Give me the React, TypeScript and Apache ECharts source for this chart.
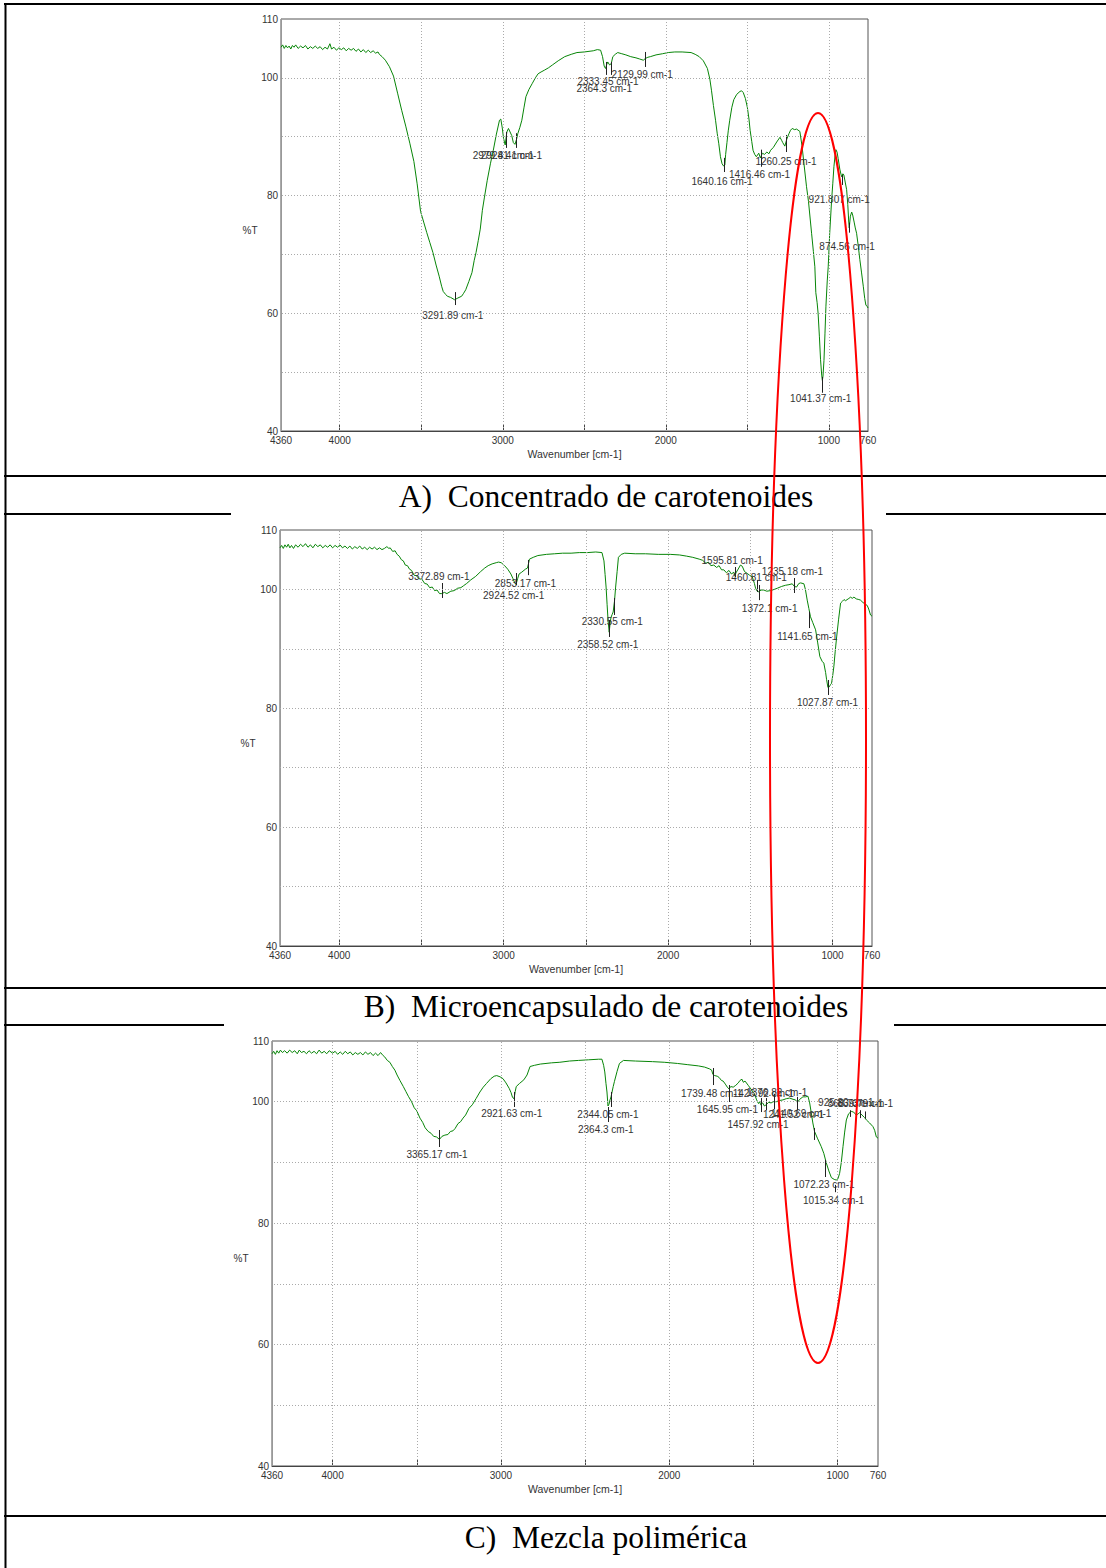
import React, { useEffect, useRef } from 'react';
import * as echarts from 'echarts';

// ---------- axis ticks / labels ----------
const X_LABELS = [4360, 4000, 3000, 2000, 1000, 760];
const X_GRID = [4000, 3500, 3000, 2500, 2000, 1500, 1000];
const Y_LABELS = [110, 100, 80, 60, 40];
const Y_GRID = [100, 90, 80, 70, 60, 50];
const X_NAME = 'Wavenumber [cm-1]';
const Y_NAME = '%T';
const CAPTIONS = [
  'A)\u00a0\u00a0Concentrado de carotenoides',
  'B)\u00a0\u00a0Microencapsulado de carotenoides',
  'C)\u00a0\u00a0Mezcla polimérica',
];

// ---------- spectra: [wavenumber, %T] ----------
const specA: [number, number][] = [
  [4360,105.2],[4350,105.6],[4340,105.0],[4330,105.5],[4320,105.1],[4310,105.4],[4300,104.9],[4290,105.5],[4280,105.2],[4270,105.6],
  [4255,105.0],[4240,105.4],[4225,105.1],[4210,105.5],[4195,104.9],[4180,105.3],[4165,105.0],[4150,105.4],[4135,105.0],[4120,105.3],
  [4105,104.8],[4090,105.2],[4075,104.9],[4060,105.8],[4050,104.9],[4035,105.2],[4020,104.7],[4005,105.1],[3990,104.8],[3975,105.1],
  [3960,104.6],[3945,105.0],[3930,104.7],[3915,105.0],[3900,104.5],[3885,104.9],[3870,104.4],[3855,104.8],[3840,104.3],[3825,104.7],
  [3810,104.3],[3795,104.6],[3780,104.2],[3765,104.4],[3757,104.0],[3740,103.6],[3720,103.0],[3695,101.9],[3670,100.3],[3645,97.4],
  [3620,94.5],[3595,91.8],[3570,88.9],[3545,85.8],[3525,82.0],[3504,77.3],[3485,75.5],[3466,73.7],[3447,72.0],[3428,70.3],
  [3409,68.2],[3390,66.3],[3375,64.6],[3365,63.7],[3350,63.2],[3340,62.9],[3320,62.7],[3295,62.3],[3275,62.6],[3252,62.9],
  [3240,63.4],[3227,64.0],[3208,65.4],[3189,66.9],[3175,69.0],[3164,70.3],[3150,72.4],[3138,74.3],[3125,77.5],[3113,79.6],
  [3095,82.6],[3075,85.5],[3058,87.7],[3040,90.3],[3020,92.8],[3012,93.0],[3003,91.5],[2995,89.7],[2985,88.6],[2975,90.8],
  [2965,91.4],[2955,90.8],[2945,90.2],[2935,89.0],[2925,88.7],[2915,89.6],[2908,90.5],[2895,91.6],[2883,92.8],[2870,94.9],
  [2858,96.8],[2840,98.0],[2820,99.0],[2800,100.0],[2783,100.7],[2765,101.0],[2745,101.3],[2720,101.7],[2695,102.2],[2660,102.9],
  [2620,103.6],[2580,104.0],[2545,104.3],[2500,104.4],[2445,104.6],[2420,104.8],[2400,104.7],[2388,103.6],[2378,102.0],[2370,101.6],
  [2362,102.3],[2356,102.7],[2345,102.2],[2335,102.4],[2325,103.6],[2310,104.0],[2295,104.3],[2270,104.1],[2245,103.9],[2215,103.6],
  [2183,103.4],[2160,103.2],[2138,103.0],[2125,103.3],[2110,103.5],[2095,103.6],[2060,103.9],[2020,104.1],[1985,104.3],[1945,104.4],
  [1900,104.4],[1845,104.3],[1820,104.0],[1795,103.6],[1770,102.9],[1745,101.6],[1730,99.8],[1720,97.9],[1708,95.3],[1695,92.8],
  [1685,90.6],[1675,88.8],[1665,86.6],[1655,85.4],[1645,85.0],[1638,85.2],[1633,87.0],[1625,89.0],[1617,91.0],[1608,92.8],
  [1595,95.0],[1583,96.3],[1565,97.2],[1545,97.7],[1535,97.8],[1525,97.5],[1512,96.5],[1500,95.0],[1490,93.0],[1483,91.1],
  [1473,89.2],[1465,87.7],[1455,87.0],[1445,86.6],[1430,87.2],[1420,86.4],[1408,87.2],[1395,87.0],[1380,87.4],[1368,87.1],
  [1357,87.7],[1340,88.2],[1320,89.1],[1300,89.9],[1290,89.4],[1283,89.0],[1270,88.4],[1258,89.6],[1245,90.5],[1235,91.1],
  [1225,91.4],[1210,91.2],[1198,91.3],[1178,90.9],[1165,88.5],[1153,85.5],[1137,81.5],[1125,79.0],[1106,73.6],[1095,70.5],
  [1086,67.9],[1080,63.5],[1072,61.8],[1066,60.0],[1058,56.0],[1051,52.1],[1044,49.5],[1040,48.6],[1036,49.3],[1030,52.0],
  [1024,56.5],[1018,61.2],[1010,65.5],[1004,67.9],[995,73.5],[983,79.3],[976,82.0],[969,84.9],[962,86.8],[957,87.8],
  [950,87.4],[943,86.3],[933,84.5],[922,83.2],[914,83.7],[908,83.5],[900,82.3],[891,81.0],[884,78.5],[878,75.5],
  [875,74.5],[868,76.5],[860,77.2],[854,76.7],[845,75.5],[838,74.5],[830,73.6],[820,71.5],[810,69.1],[800,67.0],
  [789,64.6],[780,62.5],[773,61.4],[766,61.2],[760,60.9],
];

const specB: [number, number][] = [
  [4360,107.0],[4350,107.4],[4340,106.9],[4330,107.5],[4320,107.1],[4310,107.6],[4300,107.0],[4290,107.4],[4278,106.9],[4265,107.5],
  [4250,107.1],[4235,107.6],[4220,107.2],[4205,107.7],[4190,107.1],[4175,107.5],[4160,107.0],[4145,107.6],[4130,107.2],[4115,107.5],
  [4100,107.0],[4085,107.4],[4070,107.1],[4055,107.5],[4040,107.0],[4025,107.4],[4010,107.1],[3995,107.5],[3980,107.0],[3965,107.3],
  [3950,106.9],[3935,107.3],[3920,106.8],[3905,107.2],[3890,106.9],[3875,107.3],[3860,106.8],[3845,107.1],[3830,106.7],[3815,107.1],
  [3800,106.8],[3785,107.1],[3770,106.7],[3755,107.0],[3740,106.7],[3725,106.9],[3710,107.2],[3698,106.9],[3690,107.0],[3675,106.4],
  [3660,106.5],[3648,105.9],[3635,105.6],[3622,105.0],[3610,104.8],[3598,104.1],[3585,104.0],[3572,103.4],[3560,103.2],[3545,102.4],
  [3530,102.3],[3515,101.8],[3497,101.7],[3480,101.0],[3465,100.9],[3450,100.3],[3434,100.4],[3420,99.8],[3405,99.9],[3390,99.3],
  [3376,99.3],[3360,99.5],[3345,99.3],[3321,99.7],[3300,99.8],[3280,100.2],[3260,100.3],[3245,100.6],[3225,101.0],[3200,101.6],
  [3170,102.2],[3140,103.0],[3115,103.6],[3094,104.0],[3070,104.3],[3045,104.5],[3031,104.6],[3015,104.5],[2994,104.0],[2975,103.4],
  [2956,102.6],[2943,101.8],[2931,101.0],[2924,100.9],[2915,101.8],[2906,102.6],[2890,102.9],[2868,103.4],[2855,103.6],[2850,104.2],
  [2843,105.1],[2820,105.4],[2792,105.7],[2740,105.9],[2690,106.0],[2641,106.1],[2590,106.1],[2540,106.2],[2490,106.2],[2440,106.3],
  [2402,106.2],[2390,104.8],[2383,102.5],[2377,100.4],[2371,97.5],[2365,94.8],[2358,92.8],[2352,94.5],[2347,95.3],[2340,95.8],
  [2334,96.2],[2326,98.0],[2319,100.4],[2310,103.0],[2302,105.4],[2285,105.9],[2264,106.1],[2200,106.0],[2138,106.0],[2060,105.9],
  [1987,105.9],[1930,105.8],[1887,105.6],[1850,105.4],[1811,105.1],[1790,104.9],[1770,104.4],[1755,104.6],[1740,104.0],[1722,104.1],
  [1705,103.7],[1690,104.0],[1675,103.3],[1661,103.3],[1645,102.8],[1630,103.2],[1615,102.6],[1600,102.9],[1595,102.3],[1585,102.9],
  [1570,103.6],[1560,104.1],[1549,103.9],[1535,103.0],[1519,102.7],[1505,102.4],[1488,102.1],[1475,101.0],[1468,100.2],[1458,99.7],
  [1448,99.6],[1435,99.9],[1418,99.9],[1400,99.7],[1377,99.8],[1355,100.0],[1336,100.2],[1310,100.5],[1286,100.7],[1265,100.8],
  [1245,100.95],[1232,100.5],[1219,100.4],[1205,101.0],[1194,101.1],[1174,100.95],[1165,100.0],[1154,98.2],[1144,96.8],[1134,95.4],
  [1120,94.4],[1103,93.2],[1090,91.0],[1077,88.7],[1063,87.9],[1053,87.6],[1042,86.0],[1036,84.8],[1028,83.5],[1020,83.6],
  [1012,84.0],[1006,84.2],[999,85.5],[992,87.0],[984,89.5],[975,92.0],[963,95.0],[951,97.7],[940,98.0],[930,98.3],
  [921,98.1],[905,98.4],[890,98.7],[880,98.5],[870,98.7],[855,98.4],[840,98.3],[830,98.2],[815,97.8],[800,97.5],
  [789,97.3],[780,96.7],[769,95.7],[760,95.5],
];

const specC: [number, number][] = [
  [4360,107.9],[4350,108.3],[4340,107.8],[4330,108.4],[4320,108.0],[4310,108.5],[4298,108.1],[4285,108.4],[4270,108.0],[4255,108.5],
  [4240,108.1],[4225,108.4],[4210,107.9],[4198,108.5],[4185,108.1],[4170,108.3],[4155,107.9],[4140,108.4],[4125,108.0],[4110,108.3],
  [4095,107.9],[4080,108.5],[4065,108.0],[4050,108.3],[4035,107.9],[4020,108.4],[4000,108.0],[3985,108.3],[3970,107.8],[3955,108.2],
  [3940,107.8],[3925,108.3],[3910,107.9],[3895,108.2],[3880,107.7],[3865,108.1],[3850,107.8],[3835,108.1],[3820,107.7],[3805,108.2],
  [3790,107.8],[3775,108.1],[3760,107.6],[3745,108.0],[3730,107.6],[3715,108.1],[3700,107.6],[3691,107.4],[3675,106.8],[3660,106.5],
  [3645,105.8],[3630,105.2],[3617,104.4],[3600,103.5],[3580,102.5],[3565,101.7],[3550,100.9],[3531,100.0],[3515,99.0],[3500,98.5],
  [3481,97.3],[3465,96.6],[3450,95.7],[3432,95.1],[3415,94.8],[3400,94.3],[3383,94.2],[3365,93.8],[3350,94.3],[3333,94.5],
  [3315,94.6],[3300,95.1],[3285,95.2],[3272,95.6],[3255,96.4],[3240,96.7],[3225,97.3],[3210,97.8],[3190,98.9],[3170,99.5],
  [3148,100.5],[3125,101.6],[3105,102.4],[3086,103.0],[3060,103.8],[3040,104.2],[3025,104.3],[3005,104.1],[2988,103.8],[2970,103.1],
  [2951,102.2],[2940,101.5],[2931,100.7],[2922,100.5],[2915,101.7],[2909,102.5],[2890,103.0],[2864,103.6],[2845,104.4],[2827,105.8],
  [2800,106.0],[2766,106.2],[2700,106.4],[2650,106.5],[2593,106.7],[2540,106.8],[2480,106.9],[2420,107.0],[2400,107.0],[2390,106.0],
  [2383,104.9],[2376,103.0],[2370,101.6],[2364,99.3],[2358,99.6],[2352,100.3],[2346,100.8],[2340,101.6],[2333,102.5],[2326,103.3],
  [2310,105.0],[2296,106.3],[2272,106.8],[2200,106.7],[2099,106.6],[2030,106.5],[1951,106.3],[1890,106.1],[1827,105.9],[1790,105.7],
  [1760,105.4],[1748,105.2],[1741,104.5],[1730,104.3],[1715,104.2],[1704,104.0],[1690,103.5],[1680,103.4],[1667,102.9],[1655,102.4],
  [1645,102.1],[1635,102.5],[1620,102.4],[1605,102.7],[1590,103.1],[1580,103.5],[1568,103.7],[1560,103.2],[1550,103.4],[1531,102.7],
  [1515,102.1],[1500,101.5],[1490,101.0],[1481,100.3],[1470,99.7],[1463,100.0],[1457,99.5],[1445,99.8],[1435,99.3],[1424,99.5],
  [1410,99.9],[1395,99.8],[1383,100.0],[1364,100.0],[1345,100.2],[1325,100.3],[1305,100.5],[1285,100.6],[1265,100.4],[1250,100.3],
  [1239,99.9],[1225,100.4],[1206,100.8],[1190,100.8],[1176,100.9],[1166,99.8],[1156,98.1],[1147,96.5],[1137,95.1],[1120,94.0],
  [1097,92.6],[1082,91.5],[1067,89.9],[1052,88.6],[1037,87.5],[1020,87.2],[1008,87.1],[998,87.3],[988,88.2],[978,90.0],
  [968,92.6],[958,95.0],[948,97.0],[935,98.0],[919,98.4],[905,98.3],[889,97.8],[878,98.0],[869,98.2],[855,97.8],
  [840,97.4],[829,97.0],[810,96.5],[790,95.9],[780,95.3],[770,94.2],[760,94.0],
];

// ---------- peak annotations: [wavenumber, tick top %T, tick bottom %T, label] ----------
type Ann = [number, number, number, string];
const annA: Ann[] = [
  [3291.89, 63.6, 61.4, '3291.89 cm-1'],
  [2981.5, 90.8, 88.1, '2979.81 cm-1'],
  [2920, 90.6, 88.1, '2924.41 cm-1'],
  [2364.3, 102.7, 100.5, '2364.3 cm-1'],
  [2333.45, 102.7, 100.5, '2333.45 cm-1'],
  [2129.99, 104.4, 101.85, '2129.99 cm-1'],
  [1640.16, 86.4, 84.0, '1640.16 cm-1'],
  [1416.46, 87.8, 84.9, '1416.46 cm-1'],
  [1260.25, 90.3, 87.4, '1260.25 cm-1'],
  [921.807, 83.5, 81.8, '921.807 cm-1'],
  [874.56, 75.4, 73.7, '874.56 cm-1'],
  [1041.37, 49.2, 46.5, '1041.37 cm-1'],
];
const annB: Ann[] = [
  [3372.89, 101.08, 98.56, '3372.89 cm-1'],
  [2853.17, 104.95, 102.4, '2853.17 cm-1'],
  [2924.52, 102.76, 100.75, '2924.52 cm-1'],
  [2330.55, 98.56, 95.7, '2330.55 cm-1'],
  [2358.52, 94.86, 92.0, '2358.52 cm-1'],
  [1595.81, 103.77, 102.09, '1595.81 cm-1'],
  [1460.81, 101.6, 99.57, '1460.81 cm-1'],
  [1235.18, 101.92, 99.4, '1235.18 cm-1'],
  [1448, 100.75, 98.2, '1372.1 cm-1'],
  [1141.65, 96.25, 93.5, '1141.65 cm-1'],
  [1027.87, 84.76, 82.24, '1027.87 cm-1'],
];
const annC: Ann[] = [
  [3365.17, 95.34, 92.54, '3365.17 cm-1'],
  [2921.63, 101.6, 99.13, '2921.63 cm-1'],
  [2344.05, 101.6, 99.13, '2344.05 cm-1'],
  [2364.3, 99.13, 96.66, '2364.3 cm-1'],
  [1739.48, 105.55, 102.75, '1739.48 cm-1'],
  [1645.95, 102.75, 99.95, '1645.95 cm-1'],
  [1457.92, 100.6, 98.3, '1457.92 cm-1'],
  [1426.92, 100.6, 98.6, '1426.92 cm-1'],
  [1376.82, 101.3, 98.8, '1376.82 cm-1'],
  [1241.52, 100.8, 98.6, '1241.52 cm-1'],
  [1140.69, 95.67, 93.7, '1140.69 cm-1'],
  [1072.23, 90.4, 87.6, '1072.23 cm-1'],
  [1015.34, 86.3, 85.1, '1015.34 cm-1'],
  [925.8, 98.6, 97.5, '925.80 cm-1'],
  [868.73, 98.6, 97.3, '868.73 cm-1'],
  [839.79, 98.4, 97.2, '839.79 cm-1'],
];

// ---------- layout (pixels) ----------
const LABEL_OFFSETS: number[][][] = [
  [[-33,10],[-33,8],[-35,8],[-30,14],[-34,7],[-33,8],[-33,9],[-32,8],[-31,9],[-33,15],[-30,14],[-32,6]],
  [[-34,-21],[-33,8],[-33,11],[-32,7],[-32,8],[-33,-17],[-31,-14],[-32,-21],[-17,8],[-32,8],[-31,8]],
  [[-33,7],[-33,7],[-34,8],[-30,8],[-32,8],[-32,7],[-33,12],[-33,-17],[-28,-17],[-34,4],[-43,-26],[-32,7],[-32,8],[-32,-14],[-32,-15],[-27,-15]],
];
const PANELS = [
  { left: 281, top: 19, width: 587, height: 412, yName: [250, 230] },
  { left: 280, top: 530, width: 592, height: 416, yName: [248, 743] },
  { left: 272, top: 1041, width: 606, height: 425, yName: [241, 1258] },
];
const CAPTION_POS = [[606, 496], [606, 1006], [606, 1537]];

const SANS = '"Liberation Sans", Arial, sans-serif';
const SERIF = '"Liberation Serif", "Times New Roman", serif';

export default function App() {
  const ref = useRef<HTMLDivElement>(null);
  useEffect(() => {
    document.body.style.margin = '0';
    if (!ref.current) return;
    const chart = echarts.init(ref.current, undefined, { renderer: 'svg' });
    const spectra = [specA, specB, specC];
    const anns = [annA, annB, annC];

    const grid = PANELS.map((p) => ({
      left: p.left, top: p.top, width: p.width, height: p.height,
      show: true, borderColor: '#555', borderWidth: 1, backgroundColor: '#fff',
    }));
    const xAxis = PANELS.map((_, i) => ({
      type: 'value', gridIndex: i, min: 760, max: 4360, inverse: true,
      axisLine: { show: true, onZero: false, lineStyle: { color: '#444', width: 1 } },
      axisTick: { show: true, inside: true, length: 7, customValues: X_GRID, lineStyle: { color: '#444' } },
      axisLabel: {
        customValues: X_LABELS, fontSize: 10, color: '#333', margin: 4, fontFamily: SANS,
        showMinLabel: true, showMaxLabel: true, formatter: (v: number) => String(v),
      },
      splitLine: { show: false },
      name: X_NAME, nameLocation: 'middle', nameGap: 17,
      nameTextStyle: { fontSize: 10.5, color: '#333', fontFamily: SANS },
    }));
    const yAxis = PANELS.map((_, i) => ({
      type: 'value', gridIndex: i, min: 40, max: 110,
      axisLine: { show: true, onZero: false, lineStyle: { color: '#999', width: 1 } },
      axisTick: { show: false },
      axisLabel: { customValues: Y_LABELS, fontSize: 10, color: '#333', margin: 3, fontFamily: SANS, formatter: (v: number) => String(v) },
      splitLine: { show: false },
    }));

    const series: any[] = [];
    spectra.forEach((data, i) => {
      series.push({
        type: 'line', xAxisIndex: i, yAxisIndex: i, data, showSymbol: false, symbol: 'none',
        lineStyle: { color: '#078507', width: 1 }, z: 3, silent: true,
        markLine: {
          silent: true, symbol: ['none', 'none'], label: { show: false },
          lineStyle: { color: '#aaa', width: 1, type: [1, 2] },
          emphasis: { disabled: true },
          data: [...X_GRID.map((v) => ({ xAxis: v })), ...Y_GRID.map((v) => ({ yAxis: v }))],
        },
      });
      const ann = anns[i];
      const offs = LABEL_OFFSETS[i];
      series.push({
        type: 'custom', xAxisIndex: i, yAxisIndex: i, clip: false, z: 4, silent: true,
        data: ann.map((a) => [a[0], a[1], a[2]]),
        encode: { x: 0, y: [1, 2] },
        renderItem: (params: any, api: any) => {
          const p1 = api.coord([api.value(0), api.value(1)]);
          const p2 = api.coord([api.value(0), api.value(2)]);
          const off = offs[params.dataIndex];
          const x = Math.round(p1[0]) + 0.5;
          return {
            type: 'group',
            children: [
              { type: 'line', shape: { x1: x, y1: p1[1], x2: x, y2: p2[1] }, style: { stroke: '#222', lineWidth: 1 } },
              {
                type: 'text', x: p2[0] + off[0], y: p2[1] + off[1],
                style: { text: ann[params.dataIndex][3], fill: '#333', fontSize: 10, fontFamily: SANS, align: 'left', verticalAlign: 'middle' },
              },
            ],
          };
        },
      });
    });

    const black = { fill: '#000' };
    const graphic: any[] = [
      { type: 'rect', shape: { x: 4, y: 3, width: 1102, height: 2 }, style: black, silent: true },
      { type: 'rect', shape: { x: 4.5, y: 3, width: 2, height: 1565 }, style: black, silent: true },
      { type: 'rect', shape: { x: 4, y: 475, width: 1102, height: 2 }, style: black, silent: true },
      { type: 'rect', shape: { x: 4, y: 513, width: 227, height: 2 }, style: black, silent: true },
      { type: 'rect', shape: { x: 886, y: 513, width: 220, height: 2 }, style: black, silent: true },
      { type: 'rect', shape: { x: 4, y: 987, width: 1102, height: 2 }, style: black, silent: true },
      { type: 'rect', shape: { x: 4, y: 1024, width: 220, height: 2 }, style: black, silent: true },
      { type: 'rect', shape: { x: 894, y: 1024, width: 212, height: 2 }, style: black, silent: true },
      { type: 'rect', shape: { x: 4, y: 1515, width: 1102, height: 2 }, style: black, silent: true },
    ];
    CAPTIONS.forEach((c, i) => {
      graphic.push({
        type: 'text', x: CAPTION_POS[i][0], y: CAPTION_POS[i][1], silent: true,
        style: { text: c, fill: '#000', fontSize: 31.5, fontFamily: SERIF, align: 'center', verticalAlign: 'middle' },
      });
    });
    PANELS.forEach((p) => {
      graphic.push({
        type: 'text', x: p.yName[0], y: p.yName[1], silent: true,
        style: { text: Y_NAME, fill: '#333', fontSize: 10, fontFamily: SANS, align: 'center', verticalAlign: 'middle' },
      });
    });
    graphic.push({
      type: 'ellipse', z: 100, silent: true,
      shape: { cx: 818, cy: 738, rx: 48, ry: 625 },
      style: { fill: 'none', stroke: '#ff0000', lineWidth: 2 },
    });

    chart.setOption({
      animation: false,
      backgroundColor: '#fff',
      grid, xAxis, yAxis, series, graphic,
    });
    return () => chart.dispose();
  }, []);
  return <div ref={ref} style={{ width: 1106, height: 1568, position: 'absolute', left: 0, top: 0 }} />;
}
